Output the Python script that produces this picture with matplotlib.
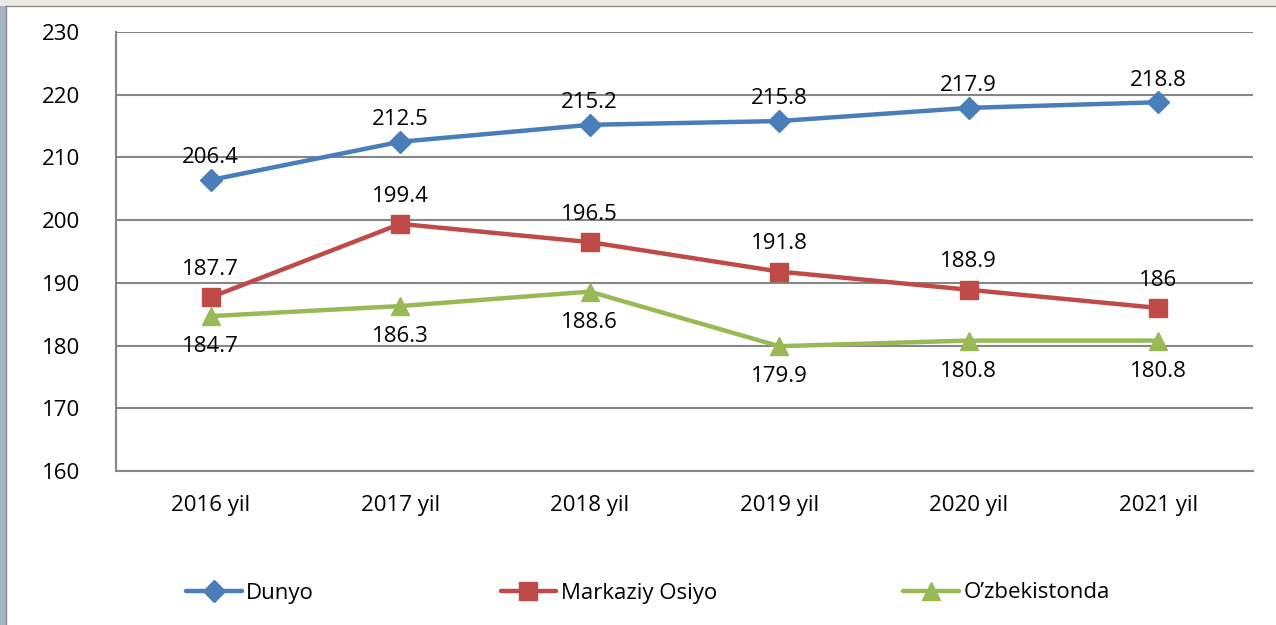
import matplotlib
matplotlib.use("Agg")
import matplotlib.pyplot as plt
from matplotlib.patches import Rectangle
from matplotlib.lines import Line2D

categories = ["2016 yil", "2017 yil", "2018 yil", "2019 yil", "2020 yil", "2021 yil"]
dunyo = [206.4, 212.5, 215.2, 215.8, 217.9, 218.8]
markaziy = [187.7, 199.4, 196.5, 191.8, 188.9, 186]
uzb = [184.7, 186.3, 188.6, 179.9, 180.8, 180.8]
dunyo_labels = ["206.4", "212.5", "215.2", "215.8", "217.9", "218.8"]
markaziy_labels = ["187.7", "199.4", "196.5", "191.8", "188.9", "186"]
uzb_labels = ["184.7", "186.3", "188.6", "179.9", "180.8", "180.8"]
yticks = [160, 170, 180, 190, 200, 210, 220, 230]

plt.rcParams['font.family'] = ['Open Sans', 'DejaVu Sans']
FS = 16

W, H = 1276, 625
fig = plt.figure(figsize=(W/100, H/100), dpi=100)
fig.patch.set_facecolor("white")

# screenshot frame
fig.patches.append(Rectangle((0, 0), 6/W, 1, transform=fig.transFigure,
                             facecolor="#a9b4c2", edgecolor="none", zorder=0))
fig.patches.append(Rectangle((0, 1-6/H), 1, 6/H, transform=fig.transFigure,
                             facecolor="#ece9e7", edgecolor="none", zorder=0))
fig.lines.append(Line2D([6/W, 6/W], [0, 1-6/H], transform=fig.transFigure,
                        color="#8a8a8a", lw=1))
fig.lines.append(Line2D([6/W, 1], [1-6/H, 1-6/H], transform=fig.transFigure,
                        color="#8a8a8a", lw=1))

ax = fig.add_axes([116/W, 1-471/H, (1253-116)/W, (471-32)/H])
x = list(range(len(categories)))

blue, red, green = "#4A7EBB", "#BE4B48", "#98B954"
ax.plot(x, dunyo, color=blue, lw=3.2, marker="D", markersize=11, label="Dunyo",
        solid_capstyle="round", zorder=5)
ax.plot(x, markaziy, color=red, lw=3.2, marker="s", markersize=13, label="Markaziy Osiyo",
        solid_capstyle="round", zorder=4)
ax.plot(x, uzb, color=green, lw=3.2, marker="^", markersize=13, label="O\u2019zbekistonda",
        solid_capstyle="round", zorder=3)

for xi, v, t in zip(x, dunyo, dunyo_labels):
    ax.annotate(t, (xi, v), xytext=(0, 16), textcoords="offset points",
                ha="center", va="center", fontsize=FS, color="black")
for xi, v, t in zip(x, markaziy, markaziy_labels):
    ax.annotate(t, (xi, v), xytext=(0, 20), textcoords="offset points",
                ha="center", va="center", fontsize=FS, color="black")
for xi, v, t in zip(x, uzb, uzb_labels):
    ax.annotate(t, (xi, v), xytext=(0, -22), textcoords="offset points",
                ha="center", va="center", fontsize=FS, color="black")

ax.set_xlim(-0.5, len(categories) - 0.5)
ax.set_ylim(160, 230)
ax.set_yticks(yticks)
ax.set_yticklabels([str(v) for v in yticks], fontsize=FS)
ax.set_xticks(x)
ax.set_xticklabels(categories, fontsize=FS)
ax.tick_params(axis="both", length=0)
ax.tick_params(axis="y", pad=26)
ax.tick_params(axis="x", pad=17)
ax.yaxis.grid(True, color="#868686", lw=1.5)
ax.set_axisbelow(True)
for s in ["top", "right"]:
    ax.spines[s].set_visible(False)
for s in ["left", "bottom"]:
    ax.spines[s].set_color("#868686")
    ax.spines[s].set_linewidth(1.5)

leg = fig.legend(loc="center left", bbox_to_anchor=(186/W, 1-593/H), ncol=3,
                 frameon=False, fontsize=FS, handlelength=2.5, handletextpad=0.2,
                 columnspacing=8.4, borderaxespad=0, borderpad=0)

fig.savefig("out.png", dpi=100)
